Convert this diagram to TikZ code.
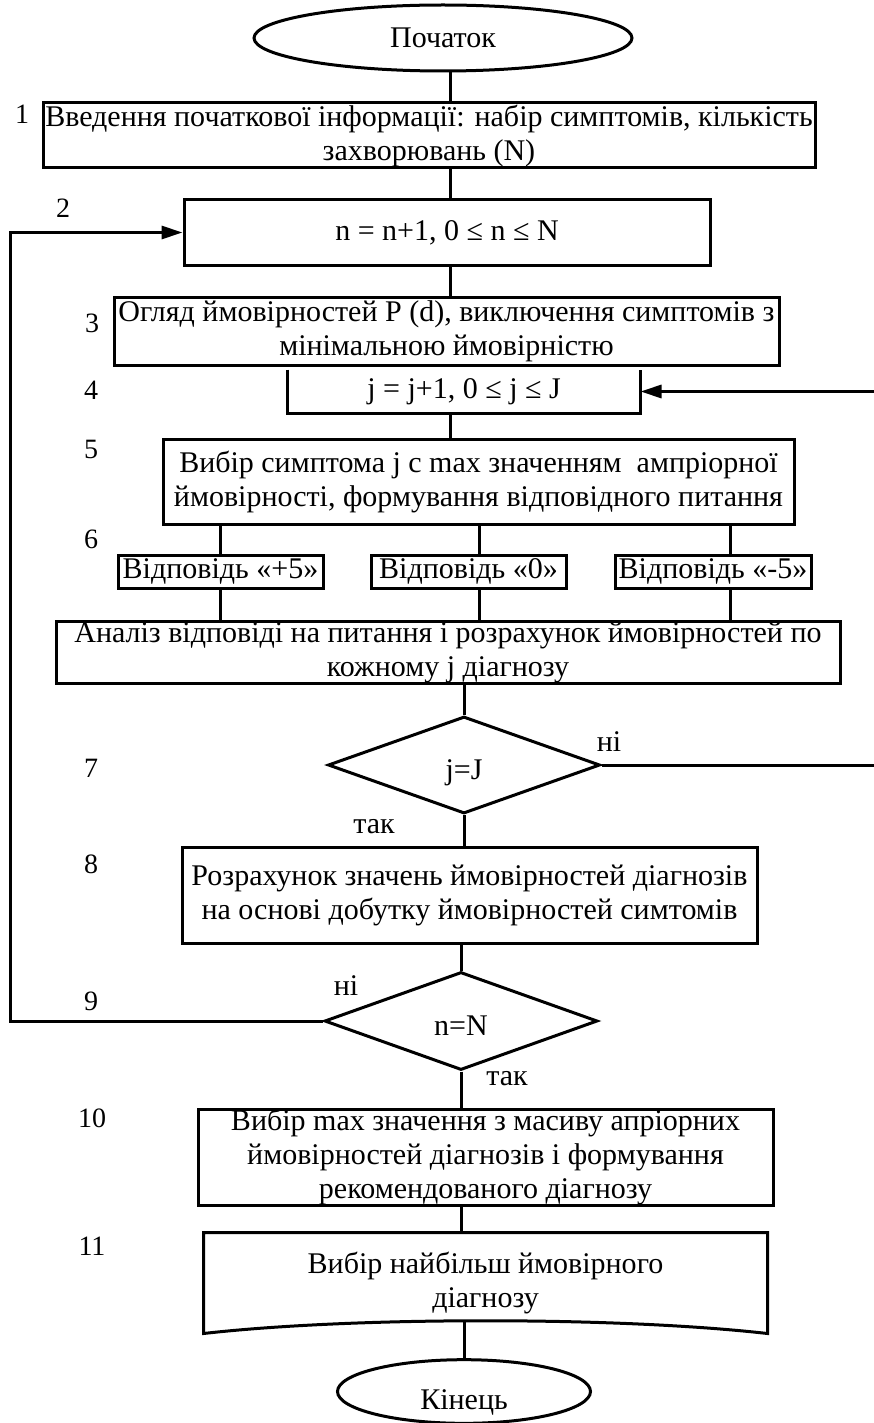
\documentclass[tikz,border=0pt]{standalone}
\usepackage{fontspec}
\setmainfont{Liberation Serif}
\usetikzlibrary{arrows.meta, positioning, shapes.geometric}
\tikzset{
    flowchart/.style={x=1pt, y=-1pt, line width=3pt, font=\fontsize{30}{34}\selectfont,
        >={Triangle[length=21pt, width=13pt]}},
    block/.style={draw, rectangle, align=center, inner sep=0pt},
    terminal/.style={draw, ellipse, inner sep=0pt},
    decision/.style={draw, diamond, inner sep=0pt, text height=34pt, text depth=6pt},
    docblock/.style={rectangle, align=center, inner sep=0pt},
    stepno/.style={anchor=base, font=\fontsize{28}{34}\selectfont},
    reply/.style={anchor=base},
}
\begin{document}
\begin{tikzpicture}[flowchart]
    \useasboundingbox (0,0) rectangle (874,1423);
    \clip (0,0) rectangle (874,1423);

    \coordinate (axis)      at (450,0);
    \coordinate (zaxis)     at (479,0);
    \coordinate (maxis)     at (730,0);
    \coordinate (leftrail)  at (10,0);
    \coordinate (rightrail) at (890,0);

    \node[terminal, minimum width=378, minimum height=66] (start) at (443,38) {Початок};
    \node[block, minimum width=772, minimum height=65] (init) at (429,135.5)
        {Введення початкової інформації: набір симптомів, кількість\\захворювань (N)};
    \node[block, minimum width=526, minimum height=65] (ncount) at (447,232.5) {n = n+1, 0 ≤ n ≤ N};
    \node[block, minimum width=665, minimum height=68] (review) at (446.5,331)
        {Огляд ймовірностей P (d), виключення симптомів з\\мінімальною ймовірністю};
    \node[block, draw=none, minimum width=350, minimum height=41] (jcount) at (464,391.5) {j = j+1, 0 ≤ j ≤ J};
    \node[block, minimum width=631, minimum height=85] (choose) at (478.5,481.5)
        {Вибір симптома j с max значенням\ \ ампріорної\\ймовірності, формування відповідного питання};
    \node[block, minimum width=205, minimum height=33] (ansP) at (220.5,571.5) {Відповідь «+5»};
    \node[block, minimum width=195, minimum height=33] (ansZ) at (468.5,571.5) {Відповідь «0»};
    \node[block, minimum width=196, minimum height=33] (ansM) at (713,571.5) {Відповідь «-5»};
    \node[block, minimum width=784, minimum height=59] (analysis) at (448,652.5)
        {Аналіз відповіді на питання і розрахунок ймовірностей по\\кожному j діагнозу};
    \node[decision, minimum width=272, minimum height=97] (checkj) at (464,765) {j=J};
    \node[block, minimum width=575, minimum height=96] (calc) at (469.5,895)
        {Розрахунок значень ймовірностей діагнозів\\ на основі добутку ймовірностей симтомів};
    \node[decision, minimum width=273, minimum height=98] (checkn) at (461,1021) {n=N};
    \node[block, minimum width=575, minimum height=96] (pick) at (485.5,1157)
        {Вибір max значення з масиву апріорних\\ймовірностей діагнозів і формування\\рекомендованого діагнозу};
    \node[docblock, minimum width=561, minimum height=98] (best) at (485.5,1283)
        {Вибір найбільш ймовірного\\діагнозу};
    \node[terminal, minimum width=253, minimum height=57, text height=40pt, text depth=5pt] (stop) at (464,1391.5) {Кінець};

    % document shape with curved bottom edge
    \draw (best.north west) -- (best.north east) -- (best.south east)
        .. controls ([xshift=-150pt, yshift=17pt]best.south east) and ([xshift=150pt, yshift=17pt]best.south west)
        .. (best.south west) -- cycle;
    \coordinate (bestlow) at ([yshift=13pt]best.south);
    % open-top box of the j counter
    \draw (jcount.north west) |- (jcount.south east) -- (jcount.north east);

    \node[stepno] (s1)  at (22,124)  {1};
    \node[stepno] (s2)  at (63,218)  {2};
    \node[stepno] (s3)  at (92,332)  {3};
    \node[stepno] (s4)  at (91,399)  {4};
    \node[stepno] (s5)  at (91,458)  {5};
    \node[stepno] (s6)  at (91,548)  {6};
    \node[stepno] (s7)  at (91,777)  {7};
    \node[stepno] (s8)  at (91,873)  {8};
    \node[stepno] (s9)  at (91,1010) {9};
    \node[stepno] (s10) at (92,1127) {10};
    \node[stepno] (s11) at (92,1255) {11};

    \node[reply] (noj)  at (609,751)  {ні};
    \node[reply] (yesj) at (374,833)  {так};
    \node[reply] (non)  at (346,995)  {ні};
    \node[reply] (yesn) at (507,1085) {так};

    \draw (start.south -| axis) -- (init.north -| axis);
    \draw (init.south -| axis) -- (ncount.north -| axis);
    \draw (ncount.south -| axis) -- (review.north -| axis);
    \draw (jcount.south -| axis) -- (choose.north -| axis);

    \draw (choose.south -| ansP.north) -- (ansP.north);
    \draw (choose.south -| zaxis) -- (ansZ.north -| zaxis);
    \draw (choose.south -| maxis) -- (ansM.north -| maxis);
    \draw (ansP.south) -- (ansP.south |- analysis.north);
    \draw (ansZ.south -| zaxis) -- (analysis.north -| zaxis);
    \draw (ansM.south -| maxis) -- (analysis.north -| maxis);

    \draw (analysis.south -| checkj.north) -- (checkj.north);
    \draw (checkj.south) -- (checkj.south |- calc.north);
    \draw (calc.south -| checkn.north) -- (checkn.north);
    \draw (checkn.south) -- (checkn.south |- pick.north);
    \draw (pick.south -| checkn.south) -- (best.north -| checkn.south);
    \draw (bestlow -| stop.north) -- (stop.north);

    \draw[->] (checkj.east) -- (checkj.east -| rightrail) |- (jcount.east);
    \draw[->] (checkn.west) -- (checkn.west -| leftrail) |- (ncount.west);
\end{tikzpicture}
\end{document}
